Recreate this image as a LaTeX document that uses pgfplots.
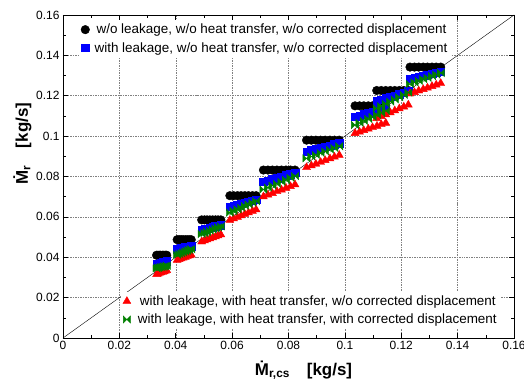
\documentclass[border=0pt]{standalone}
\usepackage{fontspec}
\setmainfont{Liberation Sans}
\usepackage{pgfplots}
\pgfplotsset{compat=1.18}
\usepackage{pgfplotstable}

\pgfdeclareplotmark{bowtie}{%
  \pgfpathmoveto{\pgfqpoint{-\pgfplotmarksize}{-\pgfplotmarksize}}%
  \pgfpathlineto{\pgfqpoint{-\pgfplotmarksize}{\pgfplotmarksize}}%
  \pgfpathlineto{\pgfqpoint{\pgfplotmarksize}{-\pgfplotmarksize}}%
  \pgfpathlineto{\pgfqpoint{\pgfplotmarksize}{\pgfplotmarksize}}%
  \pgfpathclose
  \pgfusepathqfillstroke
}

\definecolor{ogreen}{RGB}{0,128,0}

\pgfplotstableread{
x bk bl gr rd
0.0332 0.0410 0.0365 0.0345 0.0315
0.0337 0.0410 0.0367 0.0347 0.0318
0.0342 0.0410 0.0369 0.0349 0.0321
0.0347 0.0410 0.0371 0.0351 0.0324
0.0353 0.0410 0.0374 0.0352 0.0326
0.0358 0.0410 0.0376 0.0354 0.0329
0.0363 0.0410 0.0378 0.0356 0.0332
0.0368 0.0410 0.0380 0.0358 0.0335
0.0405 0.0487 0.0440 0.0412 0.0386
0.0412 0.0487 0.0442 0.0416 0.0390
0.0419 0.0487 0.0444 0.0420 0.0393
0.0426 0.0487 0.0446 0.0424 0.0397
0.0434 0.0487 0.0449 0.0428 0.0401
0.0441 0.0487 0.0451 0.0432 0.0405
0.0448 0.0487 0.0453 0.0436 0.0408
0.0455 0.0487 0.0455 0.0440 0.0412
0.0492 0.0585 0.0535 0.0515 0.0477
0.0502 0.0585 0.0539 0.0520 0.0482
0.0511 0.0585 0.0542 0.0526 0.0487
0.0521 0.0585 0.0546 0.0531 0.0492
0.0531 0.0585 0.0549 0.0537 0.0497
0.0541 0.0585 0.0553 0.0542 0.0502
0.0550 0.0585 0.0556 0.0548 0.0507
0.0560 0.0585 0.0560 0.0553 0.0512
0.0592 0.0705 0.0650 0.0621 0.0584
0.0605 0.0705 0.0655 0.0629 0.0591
0.0619 0.0705 0.0660 0.0637 0.0599
0.0632 0.0705 0.0665 0.0645 0.0606
0.0645 0.0705 0.0670 0.0654 0.0614
0.0658 0.0705 0.0675 0.0662 0.0621
0.0672 0.0705 0.0680 0.0670 0.0629
0.0685 0.0705 0.0685 0.0678 0.0636
0.0711 0.0832 0.0774 0.0736 0.0700
0.0727 0.0832 0.0780 0.0745 0.0709
0.0743 0.0832 0.0787 0.0755 0.0717
0.0759 0.0832 0.0793 0.0764 0.0726
0.0775 0.0832 0.0799 0.0774 0.0734
0.0791 0.0832 0.0805 0.0783 0.0743
0.0807 0.0832 0.0812 0.0793 0.0751
0.0823 0.0832 0.0818 0.0802 0.0760
0.0864 0.0980 0.0923 0.0890 0.0845
0.0881 0.0980 0.0929 0.0899 0.0854
0.0897 0.0980 0.0935 0.0907 0.0862
0.0914 0.0980 0.0941 0.0916 0.0871
0.0930 0.0980 0.0947 0.0924 0.0880
0.0947 0.0980 0.0953 0.0933 0.0889
0.0963 0.0980 0.0959 0.0941 0.0897
0.0980 0.0980 0.0965 0.0950 0.0906
0.1036 0.1150 0.1096 0.1055 0.1014
0.1052 0.1150 0.1102 0.1065 0.1021
0.1067 0.1150 0.1109 0.1075 0.1029
0.1083 0.1150 0.1115 0.1085 0.1036
0.1098 0.1150 0.1121 0.1095 0.1043
0.1114 0.1150 0.1127 0.1105 0.1050
0.1129 0.1150 0.1134 0.1115 0.1058
0.1145 0.1150 0.1140 0.1125 0.1065
0.1113 0.1226 0.1174 0.1138 0.1088
0.1129 0.1226 0.1181 0.1149 0.1098
0.1145 0.1226 0.1188 0.1160 0.1107
0.1161 0.1226 0.1195 0.1171 0.1117
0.1177 0.1226 0.1201 0.1182 0.1126
0.1193 0.1226 0.1208 0.1193 0.1136
0.1209 0.1226 0.1215 0.1204 0.1145
0.1225 0.1226 0.1222 0.1215 0.1155
0.1231 0.1342 0.1284 0.1258 0.1210
0.1247 0.1342 0.1289 0.1266 0.1217
0.1262 0.1342 0.1294 0.1274 0.1225
0.1278 0.1342 0.1299 0.1282 0.1232
0.1293 0.1342 0.1305 0.1289 0.1239
0.1309 0.1342 0.1310 0.1297 0.1247
0.1324 0.1342 0.1315 0.1305 0.1254
0.1340 0.1342 0.1320 0.1313 0.1262
}\datatable

\pgfplotsset{
  common/.style={
    scale only axis, width=451bp, height=323bp,
    xmin=0, xmax=0.16, ymin=0, ymax=0.16,
    xtick={0,0.02,0.04,0.06,0.08,0.1,0.12,0.14,0.16},
    ytick={0,0.02,0.04,0.06,0.08,0.1,0.12,0.14,0.16},
    minor tick num=1,
    tick align=inside,
    major tick length=5bp, minor tick length=3bp,
    scaled ticks=false,
    /pgf/number format/assume math mode=true,
    ticklabel style={font=\fontsize{12}{14}\selectfont, /pgf/number format/fixed, /pgf/number format/precision=2},
    legend cell align=left,
  }
}

\begin{document}
\begin{tikzpicture}
\begin{axis}[common,
  axis line style={black, line width=0.8pt},
  tick style={black, line width=0.6pt},
  grid=major,
  major grid style={dash pattern=on 1.5pt off 1pt, gray, line width=0.5pt},
  xlabel={\fontsize{17}{19}\selectfont\bfseries \.{M}\textsubscript{r,cs}\quad[kg/s]},
  ylabel={\fontsize{17}{19}\selectfont\bfseries \.{M}\textsubscript{r}\quad[kg/s]},
  xlabel style={yshift=-4bp, xshift=15bp},
  ylabel style={xshift=33bp, yshift=-2bp},
  legend style={at={(0.035,0.985)}, anchor=north west, draw=none, fill=white,
    font=\fontsize{13.5}{15}\selectfont, row sep=3bp, inner sep=2bp},
]
\addplot[black, line width=0.4pt, forget plot] coordinates {(0,0) (0.16,0.16)};
\addplot[only marks, mark=*, mark size=4.3bp, black] table[x=x, y=bk] {\datatable};
\addlegendentry{\hspace{5bp}w/o leakage, w/o heat transfer, w/o corrected displacement}
\addplot[only marks, mark=square*, mark size=3.8bp, blue, fill=blue] table[x=x, y=bl] {\datatable};
\addlegendentry{\hspace{3bp}with leakage, w/o heat transfer, w/o corrected displacement}
\end{axis}
\begin{axis}[common, hide axis,
  legend style={at={(0.128,0.027)}, anchor=south west, draw=none, fill=white,
    font=\fontsize{13.5}{15}\selectfont, row sep=3bp, inner sep=2bp},
]
\addplot[only marks, mark=triangle*, mark size=4.6bp, red, fill=red] table[x=x, y=rd] {\datatable};
\addlegendentry{\hspace{7bp}with leakage, with heat transfer, w/o corrected displacement}
\addplot[only marks, mark=bowtie, mark size=3.6bp, ogreen, fill=ogreen] table[x=x, y=gr] {\datatable};
\addlegendentry{\hspace{5bp}with leakage, with heat transfer, with corrected displacement}
\end{axis}
\pgfresetboundingbox
\path ([shift={(-63bp,-54bp)}]current axis.south west) rectangle ([shift={(10bp,15bp)}]current axis.north east);
\end{tikzpicture}
\end{document}
